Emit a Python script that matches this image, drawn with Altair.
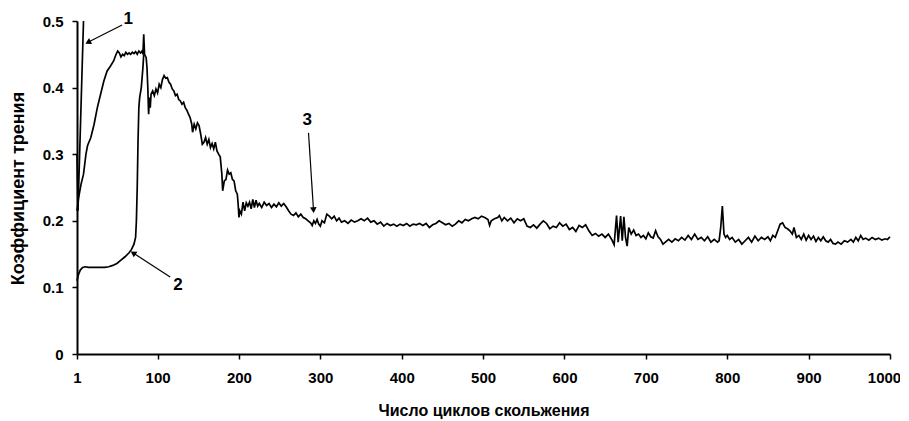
import altair as alt
import pandas as pd

# ---- curve 1 ----
c1_x = [1, 2.2, 9]
c1_y = [0.30, 0.215, 0.50]

# ---- curve 2 ----
c2_x = [1, 3, 5, 8, 11, 15, 20, 25, 30, 35, 40, 45, 50, 55, 60, 65, 68, 71, 73, 74, 75, 76, 77, 78, 80, 82, 83]
c2_y = [0.110, 0.120, 0.126, 0.130, 0.131, 0.130, 0.130, 0.130, 0.130, 0.130, 0.131, 0.133, 0.136, 0.141, 0.146,
        0.152, 0.157, 0.165, 0.175, 0.200, 0.250, 0.320, 0.370, 0.385, 0.400, 0.430, 0.450]

# ---- curve 3 ----
c3_x = [1, 3, 6, 9, 12, 14, 18, 22, 26, 30, 34, 38, 42, 46, 49, 51, 53, 55, 57, 59, 61, 63, 65, 67, 69, 71, 73, 75,
        77, 79, 81, 82, 83, 84, 86, 87, 88, 89, 90, 91, 92, 94, 96, 98, 100, 102, 104, 106, 108, 110, 112, 114, 116,
        118, 120, 122, 124, 126, 128, 130, 132, 134, 136, 138, 140, 142, 143, 145, 147, 149, 151, 153, 155, 157, 159,
        161, 163, 165, 167, 169, 171, 173, 175, 177, 179, 180, 182, 184, 186, 188, 190, 192, 194, 196, 198, 199, 200,
        201, 203, 205, 207, 209, 211, 213, 215, 217, 219, 221, 223, 225, 228, 231, 234, 237, 240, 243, 246, 249, 252,
        255, 258, 261, 264, 267, 270, 273, 276, 279, 282, 285, 288, 290, 292, 294, 296, 298, 300, 302, 305, 308, 311,
        314, 317, 320, 323, 326, 330, 334, 338, 342, 346, 350, 354, 358, 362, 366, 370, 374, 378, 382, 386, 390, 394,
        398, 402, 406, 410, 414, 418, 422, 426, 430, 434, 438, 442, 446, 450, 454, 458, 462, 466, 470, 474, 478, 482,
        486, 490, 494, 498, 502, 506, 508, 510, 514, 518, 520, 523, 526, 530, 534, 538, 542, 546, 550, 554, 558, 562,
        566, 570, 574, 578, 582, 586, 590, 594, 598, 602, 606, 610, 614, 618, 622, 626, 630, 634, 638, 642, 646, 650,
        654, 658, 661, 664, 666, 669, 671, 673, 675, 677, 679, 682, 685, 688, 691, 694, 697, 700, 703, 706, 709, 712,
        715, 718, 721, 724, 728, 732, 736, 740, 744, 748, 752, 756, 760, 764, 768, 772, 776, 780, 784, 788, 790, 792,
        794, 796, 798, 800, 803, 806, 810, 814, 818, 822, 826, 830, 834, 838, 842, 846, 850, 853, 856, 859, 862, 865,
        868, 871, 874, 877, 880, 882, 885, 888, 891, 894, 897, 900, 903, 906, 909, 912, 915, 918, 921, 924, 927, 930,
        933, 936, 940, 944, 948, 952, 955, 958, 961, 964, 967, 970, 974, 978, 982, 986, 990, 994, 997, 1000]
c3_y = [0.215, 0.235, 0.255, 0.270, 0.300, 0.313, 0.325, 0.345, 0.370, 0.390, 0.410, 0.425, 0.432, 0.440, 0.450,
        0.455, 0.452, 0.446, 0.450, 0.448, 0.453, 0.450, 0.452, 0.450, 0.453, 0.451, 0.454, 0.450, 0.455, 0.452, 0.455,
        0.450, 0.480, 0.450, 0.445, 0.430, 0.400, 0.360, 0.385, 0.370, 0.390, 0.395, 0.388, 0.398, 0.392, 0.405, 0.400,
        0.412, 0.418, 0.414, 0.415, 0.408, 0.405, 0.398, 0.395, 0.388, 0.390, 0.382, 0.380, 0.375, 0.378, 0.370, 0.366,
        0.360, 0.355, 0.345, 0.333, 0.345, 0.338, 0.347, 0.343, 0.330, 0.315, 0.318, 0.325, 0.315, 0.322, 0.310, 0.316,
        0.308, 0.318, 0.305, 0.300, 0.296, 0.270, 0.245, 0.260, 0.262, 0.276, 0.270, 0.272, 0.262, 0.260, 0.245, 0.240,
        0.225, 0.205, 0.215, 0.210, 0.228, 0.215, 0.227, 0.222, 0.228, 0.218, 0.232, 0.220, 0.231, 0.222, 0.226, 0.220,
        0.228, 0.223, 0.226, 0.220, 0.225, 0.221, 0.227, 0.222, 0.226, 0.221, 0.215, 0.210, 0.208, 0.212, 0.206, 0.210,
        0.205, 0.203, 0.200, 0.197, 0.193, 0.200, 0.196, 0.202, 0.195, 0.192, 0.200, 0.197, 0.210, 0.207, 0.203, 0.207,
        0.200, 0.204, 0.198, 0.200, 0.196, 0.201, 0.198, 0.200, 0.203, 0.200, 0.204, 0.198, 0.200, 0.195, 0.198, 0.192,
        0.196, 0.193, 0.195, 0.192, 0.195, 0.193, 0.196, 0.192, 0.195, 0.194, 0.196, 0.193, 0.196, 0.190, 0.194, 0.196,
        0.200, 0.197, 0.194, 0.196, 0.192, 0.195, 0.200, 0.197, 0.202, 0.200, 0.203, 0.205, 0.203, 0.207, 0.205, 0.202,
        0.193, 0.200, 0.203, 0.205, 0.208, 0.200, 0.205, 0.200, 0.204, 0.197, 0.203, 0.200, 0.203, 0.192, 0.190, 0.194,
        0.189, 0.195, 0.200, 0.196, 0.188, 0.192, 0.190, 0.197, 0.192, 0.195, 0.187, 0.190, 0.184, 0.193, 0.190, 0.194,
        0.185, 0.178, 0.181, 0.177, 0.180, 0.175, 0.180, 0.172, 0.164, 0.208, 0.168, 0.207, 0.170, 0.206, 0.175, 0.162,
        0.190, 0.180, 0.186, 0.178, 0.180, 0.175, 0.178, 0.173, 0.182, 0.176, 0.174, 0.185, 0.176, 0.172, 0.165, 0.168,
        0.172, 0.168, 0.173, 0.170, 0.175, 0.171, 0.178, 0.172, 0.180, 0.172, 0.175, 0.170, 0.176, 0.168, 0.172, 0.168,
        0.170, 0.190, 0.222, 0.180, 0.175, 0.178, 0.172, 0.175, 0.168, 0.172, 0.165, 0.170, 0.175, 0.168, 0.177, 0.170,
        0.175, 0.172, 0.176, 0.170, 0.178, 0.175, 0.185, 0.195, 0.197, 0.190, 0.188, 0.185, 0.180, 0.190, 0.175, 0.178,
        0.172, 0.180, 0.171, 0.178, 0.172, 0.177, 0.169, 0.175, 0.170, 0.176, 0.170, 0.168, 0.172, 0.166, 0.165, 0.168,
        0.165, 0.170, 0.168, 0.172, 0.168, 0.175, 0.170, 0.178, 0.172, 0.174, 0.171, 0.175, 0.172, 0.174, 0.171, 0.173,
        0.172, 0.176, 0.174]

# ---- axis ticks ----
x_ticks = [1, 100, 200, 300, 400, 500, 600, 700, 800, 900, 1000]
y_ticks = [0, 0.1, 0.2, 0.3, 0.4, 0.5]

# ---- annotations (data units) ----
ann_label = ["1", "2", "3"]
ann_x = [64, 125, 284]
ann_y = [0.503, 0.104, 0.352]
arr_x1 = [56.4, 115.5, 285.5]
arr_y1 = [0.494, 0.1156, 0.332]
arr_x2 = [14.5, 70.0, 291.6]
arr_y2 = [0.468, 0.1517, 0.216]
arr_angle = [243, 303, 176]

rows = []
for name, xs, ys in (("1", c1_x, c1_y), ("2", c2_x, c2_y), ("3", c3_x, c3_y)):
    for xv, yv in zip(xs, ys):
        rows.append({"series": name, "x": xv, "y": yv})
df = pd.DataFrame(rows)

ann = pd.DataFrame({"label": ann_label, "x": ann_x, "y": ann_y})
arr = pd.DataFrame({"x1": arr_x1, "y1": arr_y1, "x2": arr_x2, "y2": arr_y2, "angle": arr_angle})

xscale = alt.Scale(domain=[1, 1000], nice=False, zero=False)
yscale = alt.Scale(domain=[0, 0.5], nice=False)

xaxis = alt.Axis(values=x_ticks, format="d", title="Число циклов скольжения",
                 titleY=56, titleBaseline="middle", labelPadding=11, tickSize=5,
                 labelFlush=False, labelOverlap=False, titleFontSize=16,
                 labelOffset={"condition": {"test": "datum.value == 1000", "value": -6}, "value": 0})
yaxis = alt.Axis(values=y_ticks, title="Коэффициент трения",
                 labelExpr="datum.value == 0 ? '0' : format(datum.value, '.1f')",
                 titleX=-59, titleY=167, titleBaseline="middle", titleAngle=-90,
                 labelPadding=9, tickSize=5, labelFlush=False, titleFontSize=18)

lines = alt.Chart(df).mark_line(color="black", strokeWidth=1.7).encode(
    x=alt.X("x:Q", scale=xscale, axis=xaxis),
    y=alt.Y("y:Q", scale=yscale, axis=yaxis),
    detail="series:N",
)

rules = alt.Chart(arr).mark_rule(color="black", strokeWidth=1.2).encode(
    x=alt.X("x1:Q", scale=xscale), y=alt.Y("y1:Q", scale=yscale),
    x2="x2:Q", y2="y2:Q",
)

heads = alt.Chart(arr).mark_point(shape="triangle-up", filled=True, color="black", size=45, opacity=1).encode(
    x=alt.X("x2:Q", scale=xscale), y=alt.Y("y2:Q", scale=yscale),
    angle=alt.Angle("angle:Q", scale=None),
)

labels = alt.Chart(ann).mark_text(font="Liberation Sans", fontSize=17, fontWeight="bold", color="black").encode(
    x=alt.X("x:Q", scale=xscale), y=alt.Y("y:Q", scale=yscale), text="label:N",
)

chart = alt.layer(lines, rules, heads, labels).properties(
    width=813, height=333,
    autosize=alt.AutoSizeParams(type="none"),
    padding={"left": 69, "top": 13, "right": 10, "bottom": 66},
).configure_view(stroke=None).configure_axis(
    grid=False,
    domainColor="black", domainWidth=2,
    tickColor="black", tickWidth=1.5,
    labelFont="Liberation Sans", labelFontSize=15, labelFontWeight="bold", labelColor="black",
    titleFont="Liberation Sans", titleFontWeight="bold", titleColor="black",
)

chart.save("out.html", embed_options={"renderer": "svg", "actions": False})
